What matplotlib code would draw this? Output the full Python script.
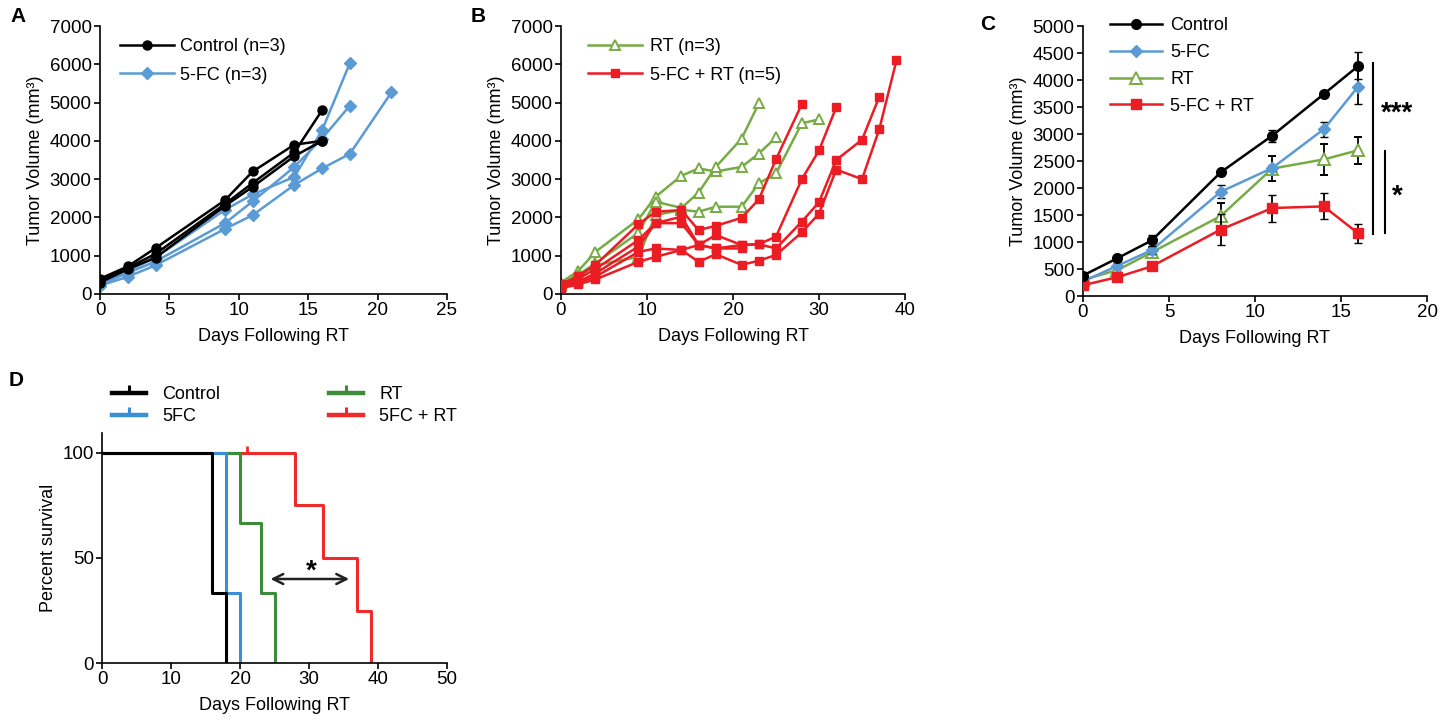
import numpy as np
import matplotlib
matplotlib.use("Agg")
import matplotlib.pyplot as plt
from matplotlib.lines import Line2D

plt.rcParams['font.family'] = ['Liberation Sans', 'DejaVu Sans']
plt.rcParams['font.size'] = 13

# ---- panel A: individual mice ----
ctrl_days = [0, 2, 4, 9, 11, 14, 16]
ctrl_mice = [
    [400, 720, 1200, 2450, 3200, 3900, 4000],
    [350, 680, 1050, 2350, 2900, 3700, 4800],
    [300, 650, 950, 2300, 2800, 3600, 4000],
]
fc_days = [0, 2, 4, 9, 11, 14, 16, 18, 21]
fc_mice = [
    [280, 600, 950, 2200, 2600, 3060, 4280, 6030],
    [250, 550, 850, 1850, 2420, 3320, 4060, 4920],
    [220, 450, 750, 1700, 2060, 2850, 3280, 3660, 5270],
]

# ---- panel B: individual mice ----
rt_days = [0, 2, 4, 9, 11, 14, 16, 18, 21, 23, 25, 28, 30]
rt_mice = [
    [300, 600, 1100, 1950, 2540, 3090, 3280, 3200, 3320, 3670, 4090],
    [250, 500, 800, 1600, 2410, 2250, 2650, 3320, 4060, 4980],
    [200, 450, 750, 970, 2060, 2200, 2150, 2280, 2280, 2890, 3150, 4460, 4560],
]
combo_days = [0, 2, 4, 9, 11, 14, 16, 18, 21, 23, 25, 28, 30, 32, 35, 37, 39]
combo_mice = [
    [250, 470, 760, 1820, 2150, 2190, 1670, 1780, 1990, 2470, 3520, 4960],
    [220, 400, 650, 1410, 1850, 2020, 1280, 1540, 1280, 1300, 1500, 3000, 3750, 4880],
    [200, 320, 540, 1240, 1850, 1850, 1280, 1190, 1280, 1300, 1190, 1890, 2400, 3500, 4030, 5150],
    [150, 250, 380, 840, 970, 1150, 840, 1040, 760, 870, 1020, 1610, 2100, 3250, 3000, 4300, 6100],
    [180, 300, 450, 1100, 1190, 1150, 1280, 1190, 1190],
]

# ---- panel C: group means ----
mean_days = [0, 2, 4, 8, 11, 14, 16]
ctrl_mean = [380, 700, 1030, 2290, 2970, 3740, 4260]
ctrl_err = [40, 50, 100, 50, 110, 50, 250]
fc_mean = [270, 560, 850, 1930, 2370, 3090, 3880]
fc_err = [30, 50, 80, 120, 60, 140, 320]
rt_mean = [300, 480, 810, 1480, 2360, 2530, 2700]
rt_err = [30, 50, 80, 250, 230, 290, 250]
combo_mean = [200, 350, 550, 1230, 1630, 1660, 1160]
combo_err = [30, 40, 50, 280, 250, 240, 170]

# ---- panel D: survival ----
surv_ctrl_t = [0, 16, 18]
surv_ctrl = [100, 33.3, 0]
surv_fc_t = [0, 18, 20]
surv_fc = [100, 33.3, 0]
surv_rt_t = [0, 20, 23, 25]
surv_rt = [100, 66.7, 33.3, 0]
surv_combo_t = [0, 28, 32, 37, 39]
surv_combo = [100, 75, 50, 25, 0]
combo_censor_t = [21]
combo_censor = [100]

BLACK = 'black'
BLUE = '#5b9bd5'
GREEN = '#77ac45'
RED = '#ec1c24'
TICK_FS = 13.5


def style_axes(ax):
    for s in ['top', 'right']:
        ax.spines[s].set_visible(False)
    ax.spines['left'].set_linewidth(1.2)
    ax.spines['bottom'].set_linewidth(1.2)
    ax.tick_params(direction='out', length=4, width=1.2, labelsize=TICK_FS, pad=2)


def fig_legend(ax, handles, labels, x_px, top_px, **kw):
    return ax.legend(handles, labels, loc='upper left',
                     bbox_to_anchor=(x_px / 1456, 1 - top_px / 727),
                     bbox_transform=fig.transFigure, frameon=False,
                     borderaxespad=0, borderpad=0, fontsize=13, **kw)


fig = plt.figure(figsize=(14.56, 7.27), dpi=100)

# A
axA = fig.add_axes([0.0687, 0.5956, 0.2383, 0.3686])
for i, m in enumerate(ctrl_mice):
    axA.plot(ctrl_days[:len(m)], m, color=BLACK, marker='o', ms=6.5, lw=1.8,
             label='Control (n=3)' if i == 0 else None, zorder=3)
for i, m in enumerate(fc_mice):
    axA.plot(fc_days[:len(m)], m, color=BLUE, marker='D', ms=6, lw=1.8,
             label='5-FC (n=3)' if i == 0 else None, zorder=2)
axA.set_xlim(0, 25)
axA.set_ylim(0, 7000)
axA.set_xticks(np.arange(0, 26, 5))
axA.set_yticks(np.arange(0, 7001, 1000))
axA.set_xlabel('Days Following RT', labelpad=6)
axA.set_ylabel('Tumor Volume (mm³)')
h, l = axA.get_legend_handles_labels()
fig_legend(axA, h, l, 120, 38, handlelength=3.0, handletextpad=0.35, labelspacing=0.65)
style_axes(axA)

# B
axB = fig.add_axes([0.3853, 0.5956, 0.2363, 0.3686])
for i, m in enumerate(rt_mice):
    axB.plot(rt_days[:len(m)], m, color=GREEN, marker='^', ms=7, mfc='white',
             mec=GREEN, mew=1.4, lw=1.8, label='RT (n=3)' if i == 0 else None, zorder=2)
for i, m in enumerate(combo_mice):
    axB.plot(combo_days[:len(m)], m, color=RED, marker='s', ms=5.5, lw=1.8,
             label='5-FC + RT (n=5)' if i == 0 else None, zorder=3)
axB.set_xlim(0, 40)
axB.set_ylim(0, 7000)
axB.set_xticks(np.arange(0, 41, 10))
axB.set_yticks(np.arange(0, 7001, 1000))
axB.set_xlabel('Days Following RT', labelpad=6)
axB.set_ylabel('Tumor Volume (mm³)')
h, l = axB.get_legend_handles_labels()
fig_legend(axB, h, l, 588, 38, handlelength=3.0, handletextpad=0.45, labelspacing=0.65)
style_axes(axB)

# C
axC = fig.add_axes([0.7438, 0.5928, 0.2363, 0.3714])
series_c = [
    (ctrl_mean, ctrl_err, 'Control', dict(color=BLACK, marker='o', ms=7), 4),
    (fc_mean, fc_err, '5-FC', dict(color=BLUE, marker='D', ms=6.5), 3),
    (rt_mean, rt_err, 'RT', dict(color=GREEN, marker='^', ms=8, mfc='white', mec=GREEN, mew=1.4), 2),
    (combo_mean, combo_err, '5-FC + RT', dict(color=RED, marker='s', ms=7), 3),
]
c_handles = []
for mean, err, lbl, kw, z in series_c:
    axC.errorbar(mean_days, mean, yerr=err, lw=1.8, capsize=3, ecolor=BLACK,
                 elinewidth=1.3, zorder=z, **kw)
    c_handles.append(Line2D([], [], lw=1.8, **kw))
axC.set_xlim(0, 20)
axC.set_ylim(0, 5000)
axC.set_xticks(np.arange(0, 21, 5))
axC.set_yticks(np.arange(0, 5001, 500))
axC.set_xlabel('Days Following RT', labelpad=6)
axC.set_ylabel('Tumor Volume (mm³)')
fig_legend(axC, c_handles, [s[2] for s in series_c], 1110, 17,
           handlelength=2.9, handletextpad=0.45, labelspacing=0.55)
axC.plot([16.85, 16.85], [1140, 4320], color='black', lw=1.5, clip_on=False)
axC.plot([17.57, 17.57], [1170, 2680], color='black', lw=1.5, clip_on=False)
axC.text(18.25, 3370, '***', fontsize=20, fontweight='bold', ha='center', va='center')
axC.text(18.25, 1850, '*', fontsize=20, fontweight='bold', ha='center', va='center')
style_axes(axC)

# D
SBLUE = '#3a8fd6'
SGREEN = '#3c8c3c'
SRED = '#f02a2a'
axD = fig.add_axes([0.0701, 0.088, 0.2370, 0.3164])
axD.step(surv_combo_t, surv_combo, where='post', color=SRED, lw=2.2)
axD.plot(combo_censor_t, combo_censor, ls='none', marker=2, ms=5, mew=2, color=SRED)
axD.step(surv_rt_t, surv_rt, where='post', color=SGREEN, lw=2.2)
axD.step(surv_fc_t, surv_fc, where='post', color=SBLUE, lw=2.2)
axD.step(surv_ctrl_t, surv_ctrl, where='post', color=BLACK, lw=2.2)
axD.annotate('', xy=(36.2, 40), xytext=(24.0, 40),
             arrowprops=dict(arrowstyle='<->', lw=1.8, color='#222222',
                             mutation_scale=18))
axD.text(30.3, 37.5, '*', fontsize=20, fontweight='bold', ha='center', va='bottom')
axD.set_xlim(0, 50)
axD.set_ylim(0, 109.5)
axD.set_xticks(np.arange(0, 51, 10))
axD.set_yticks([0, 50, 100])
axD.set_xlabel('Days Following RT', labelpad=6)
axD.set_ylabel('Percent survival', labelpad=4)
style_axes(axD)
handles = [Line2D([], [], color=c, lw=3.2, marker=2, ms=6, mew=2.2)
           for c in [BLACK, SBLUE, SGREEN, SRED]]
fig_legend(axD, handles, ['Control', '5FC', 'RT', '5FC + RT'], 112, 386, ncol=2,
           handlelength=1.9, handletextpad=0.9, columnspacing=6.0, labelspacing=0.3)

# panel letters
for lbl, x, y in [('A', 0.007, 0.977), ('B', 0.323, 0.977), ('C', 0.673, 0.966), ('D', 0.006, 0.477)]:
    fig.text(x, y, lbl, fontsize=15, fontweight='bold', ha='left', va='center')

fig.savefig('out.png', dpi=100)
